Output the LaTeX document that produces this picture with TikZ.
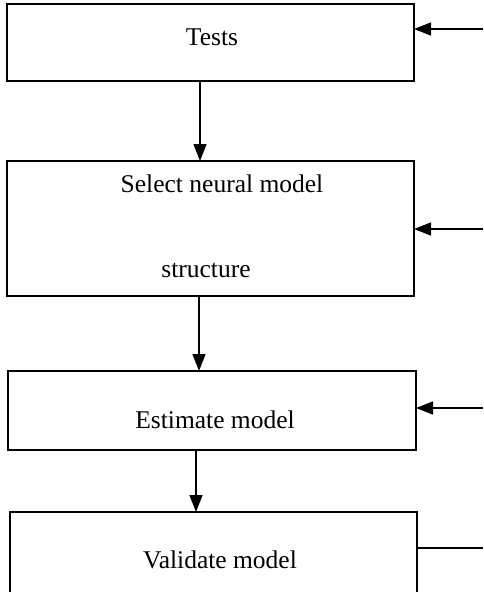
\documentclass[tikz,border=0pt]{standalone}
\usepackage{fontspec}
\setmainfont{Liberation Serif}
\usetikzlibrary{arrows.meta}
\begin{document}
\begin{tikzpicture}[x=1pt,y=-1pt,
  box/.style={draw,line width=1.6pt},
  lbl/.style={font=\fontsize{25.5}{30}\selectfont,inner sep=0pt},
  conn/.style={line width=1.4pt,-{Triangle[length=17pt,width=13pt]}},
  feed/.style={line width=1.4pt}]
\useasboundingbox (0,0) rectangle (483,592);
\draw[box] (7,4) rectangle (414,81);
\draw[box] (7,161) rectangle (414,296);
\draw[box] (8,371) rectangle (416,450);
\draw[box] (10,512) rectangle (417,594);
\node[lbl] (t) at (212,37) {Tests};
\node[lbl] (s1) at (222,184) {Select neural model};
\node[lbl] (s2) at (206,270) {structure};
\node[lbl] (e) at (215,420) {Estimate model};
\node[lbl] (v) at (220,560) {Validate model};
\coordinate (a1) at (200,81); \coordinate (a2) at (200,161);
\coordinate (b1) at (199,296); \coordinate (b2) at (199,371);
\coordinate (c1) at (196,450); \coordinate (c2) at (196,512);
\coordinate (r1) at (483,29); \coordinate (t1) at (414,29);
\coordinate (r2) at (483,229); \coordinate (t2) at (414,229);
\coordinate (r3) at (483,408); \coordinate (t3) at (416,408);
\coordinate (r4) at (483,548); \coordinate (t4) at (417,548);
\draw[conn] (a1) -- (a2);
\draw[conn] (b1) -- (b2);
\draw[conn] (c1) -- (c2);
\draw[conn] (r1) -- (t1);
\draw[conn] (r2) -- (t2);
\draw[conn] (r3) -- (t3);
\draw[feed] (t4) -- (r4);
\end{tikzpicture}
\end{document}
